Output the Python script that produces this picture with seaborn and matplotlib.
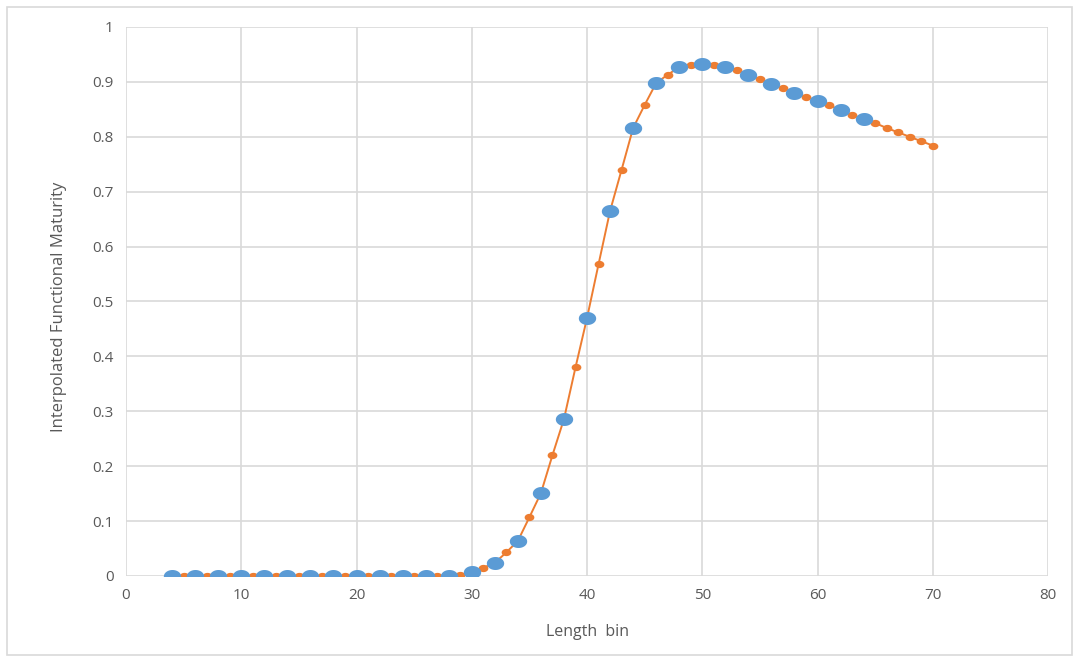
import numpy as np
import pandas as pd
import matplotlib
matplotlib.use("Agg")
import matplotlib.pyplot as plt
from matplotlib.path import Path
from matplotlib.patches import Rectangle
import seaborn as sns

# Observed maturity at even length bins
obs_length = [4, 6, 8, 10, 12, 14, 16, 18, 20, 22, 24, 26, 28, 30, 32, 34,
              36, 38, 40, 42, 44, 46, 48, 50, 52, 54, 56, 58, 60, 62, 64]
obs_maturity = [0, 0, 0, 0, 0, 0, 0, 0, 0, 0, 0, 0, 0, 0.007, 0.024, 0.064,
                0.151, 0.286, 0.470, 0.665, 0.816, 0.898, 0.927, 0.933, 0.927,
                0.913, 0.896, 0.880, 0.865, 0.849, 0.832]

# Interpolated maturity at every length bin
interp_length = list(range(4, 71))
interp_maturity = [0, 0, 0, 0, 0, 0, 0, 0, 0, 0, 0, 0, 0, 0, 0, 0, 0, 0, 0, 0,
                   0, 0, 0, 0, 0, 0.002, 0.007, 0.015, 0.024, 0.043, 0.064,
                   0.107, 0.151, 0.220, 0.286, 0.380, 0.470, 0.568, 0.665,
                   0.740, 0.816, 0.858, 0.898, 0.913, 0.927, 0.931, 0.933,
                   0.931, 0.927, 0.921, 0.913, 0.905, 0.896, 0.888, 0.880,
                   0.873, 0.865, 0.857, 0.849, 0.840, 0.832, 0.825, 0.816,
                   0.808, 0.800, 0.792, 0.784]

x_ticks = [0, 10, 20, 30, 40, 50, 60, 70, 80]
y_ticks = [0, 0.1, 0.2, 0.3, 0.4, 0.5, 0.6, 0.7, 0.8, 0.9, 1]
y_tick_labels = ["0", "0.1", "0.2", "0.3", "0.4", "0.5", "0.6", "0.7", "0.8", "0.9", "1"]

sns.set_theme(style="white")
plt.rcParams["font.family"] = ["Open Sans", "DejaVu Sans"]

obs = pd.DataFrame({"length": obs_length, "maturity": obs_maturity})
interp = pd.DataFrame({"length": interp_length, "maturity": interp_maturity})

# slightly flattened ellipse marker
t = np.linspace(0, 2 * np.pi, 60)
ellipse = Path(np.column_stack([np.cos(t), 0.75 * np.sin(t)]), closed=True)

fig = plt.figure(figsize=(10.79, 6.60), dpi=100)
ax = fig.add_axes([0.1168, 0.1273, 0.8545, 0.8318])

blue = "#5B9BD5"
orange = "#ED7D31"
grid = "#D9D9D9"
text_col = "#595959"

sns.lineplot(data=interp, x="length", y="maturity", ax=ax, color=orange,
             linewidth=1.4, marker=ellipse, markersize=7,
             markeredgewidth=0, zorder=3)
ax.plot(obs["length"], obs["maturity"], linestyle="none", marker=ellipse,
        markersize=12.5, color=blue, markeredgewidth=0, zorder=4)

ax.set_xlim(0, 80)
ax.set_ylim(0, 1)
ax.set_xticks(x_ticks)
ax.set_yticks(y_ticks)
ax.set_yticklabels(y_tick_labels)
ax.grid(True, color=grid, linewidth=1.2)
ax.set_axisbelow(True)
for s in ax.spines.values():
    s.set_visible(False)
ax.tick_params(axis="both", length=0, labelsize=11, colors=text_col, pad=9)

ax.set_xlabel("Length  bin", fontsize=11.5, color=text_col, labelpad=15)
ax.set_ylabel("Interpolated Functional Maturity", fontsize=12, color=text_col)
ax.yaxis.set_label_coords(-0.064, 0.49)

# chart-area border
fig.patches.append(Rectangle((7 / 1079, 5 / 660), 1065 / 1079, 648 / 660,
                             transform=fig.transFigure, fill=False,
                             edgecolor="#D9D9D9", linewidth=1.2))

fig.savefig("out.png", dpi=100)
